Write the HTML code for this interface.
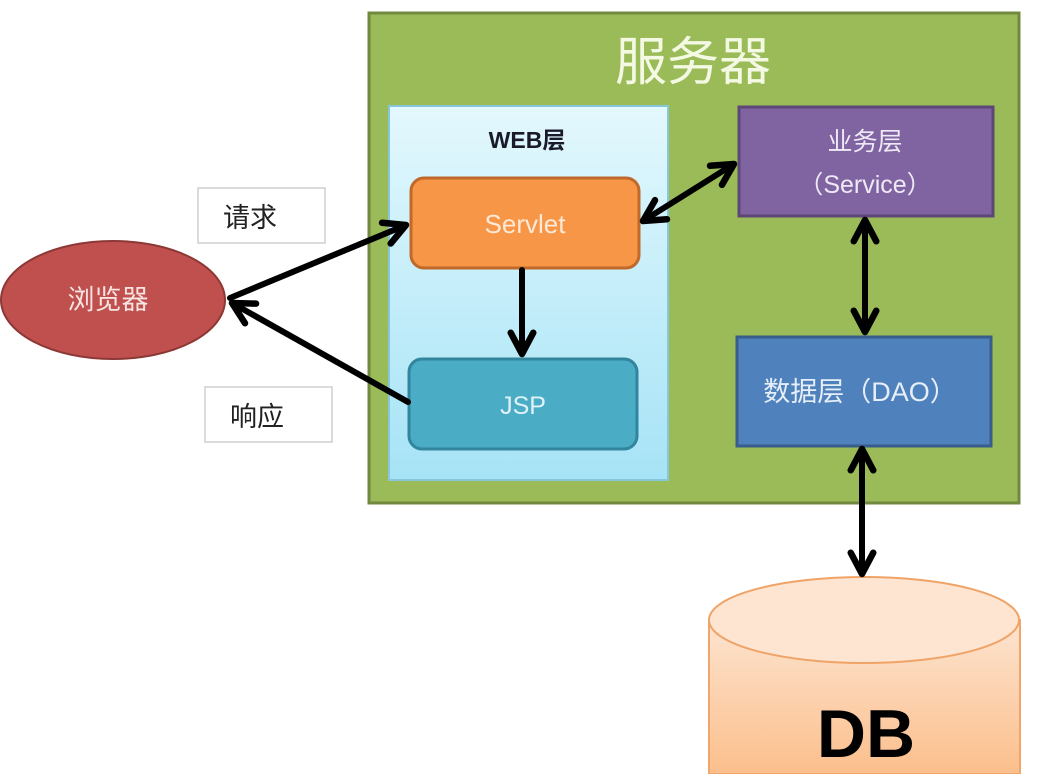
<!DOCTYPE html>
<html><head><meta charset="utf-8">
<style>
html,body{margin:0;padding:0;background:#fff;}
svg{display:block;}
text{font-family:"Liberation Sans","Noto Sans CJK SC",sans-serif;}
</style></head>
<body>
<svg width="1048" height="774" viewBox="0 0 1048 774" xmlns="http://www.w3.org/2000/svg">
<defs>
<linearGradient id="web" x1="0" y1="0" x2="0" y2="1">
<stop offset="0" stop-color="#e3f8fd"/><stop offset="1" stop-color="#a6e3f6"/>
</linearGradient>
<linearGradient id="db" x1="0" y1="0" x2="0" y2="1">
<stop offset="0" stop-color="#fde4d0"/><stop offset="1" stop-color="#fbbf8c"/>
</linearGradient>
<marker id="ah" viewBox="0 0 12 12" refX="10" refY="6" markerWidth="30" markerHeight="30" markerUnits="userSpaceOnUse" orient="auto-start-reverse">
<path d="M1.5,1.5 L10,6 L1.5,10.5" fill="none" stroke="#000" stroke-width="2.6" stroke-linecap="round" stroke-linejoin="round"/>
</marker>
</defs>
<rect x="369" y="13" width="650" height="490" fill="#9bbb59" stroke="#71893f" stroke-width="3"/>
<text x="693" y="80" font-size="52" fill="#f3f9e3" text-anchor="middle">服务器</text>
<rect x="389" y="106" width="279" height="374" fill="url(#web)" stroke="#86c7da" stroke-width="2"/>
<text x="527" y="148" font-size="23" font-weight="bold" fill="#1a1a2a" text-anchor="middle">WEB层</text>
<rect x="411" y="178" width="228" height="90" rx="13" fill="#f79646" stroke="#c0692a" stroke-width="3"/>
<text x="525" y="233" font-size="26" fill="#fde9d8" text-anchor="middle">Servlet</text>
<rect x="409" y="359" width="228" height="90" rx="13" fill="#4bacc6" stroke="#31859c" stroke-width="3"/>
<text x="523" y="414" font-size="25" fill="#dff2f8" text-anchor="middle">JSP</text>
<rect x="739" y="107" width="254" height="109" fill="#8064a2" stroke="#5d4777" stroke-width="3"/>
<text x="865" y="150" font-size="25" fill="#efe9f6" text-anchor="middle">业务层</text>
<text x="865" y="193" font-size="25" fill="#efe9f6" text-anchor="middle">（Service）</text>
<rect x="737" y="337" width="254" height="109" fill="#4f81bd" stroke="#385d8a" stroke-width="3"/>
<text x="860" y="401" font-size="27" fill="#e6eef8" text-anchor="middle">数据层（DAO）</text>
<ellipse cx="113" cy="300" rx="112" ry="59" fill="#c0504d" stroke="#8c3836" stroke-width="2"/>
<text x="108" y="309" font-size="27" fill="#f6e3e2" text-anchor="middle">浏览器</text>
<rect x="198" y="188" width="127" height="55" fill="#fff" stroke="#cfcfcf" stroke-width="1.5"/>
<text x="250" y="227" font-size="27" fill="#222" text-anchor="middle">请求</text>
<rect x="205" y="387" width="127" height="55" fill="#fff" stroke="#cfcfcf" stroke-width="1.5"/>
<text x="257" y="426" font-size="27" fill="#222" text-anchor="middle">响应</text>
<path d="M709,620 L709,774 L1020,774 L1020,620 Z" fill="url(#db)" stroke="#f2a56a" stroke-width="2"/>
<ellipse cx="864" cy="620" rx="155" ry="43" fill="#fde5d2" stroke="#f0a366" stroke-width="2"/>
<text x="866" y="757" font-size="68" font-weight="bold" fill="#000" text-anchor="middle">DB</text>
<g stroke="#000" stroke-width="6" fill="none" stroke-linecap="round">
<line x1="230" y1="298" x2="406" y2="225" marker-end="url(#ah)"/>
<line x1="408" y1="402" x2="232" y2="303" marker-end="url(#ah)"/>
<line x1="522" y1="270" x2="522" y2="354" marker-end="url(#ah)"/>
<line x1="643" y1="221" x2="734" y2="164" marker-start="url(#ah)" marker-end="url(#ah)"/>
<line x1="865" y1="220" x2="865" y2="332" marker-start="url(#ah)" marker-end="url(#ah)"/>
<line x1="862" y1="449" x2="862" y2="574" marker-start="url(#ah)" marker-end="url(#ah)"/>
</g>
</svg>
</body></html>
